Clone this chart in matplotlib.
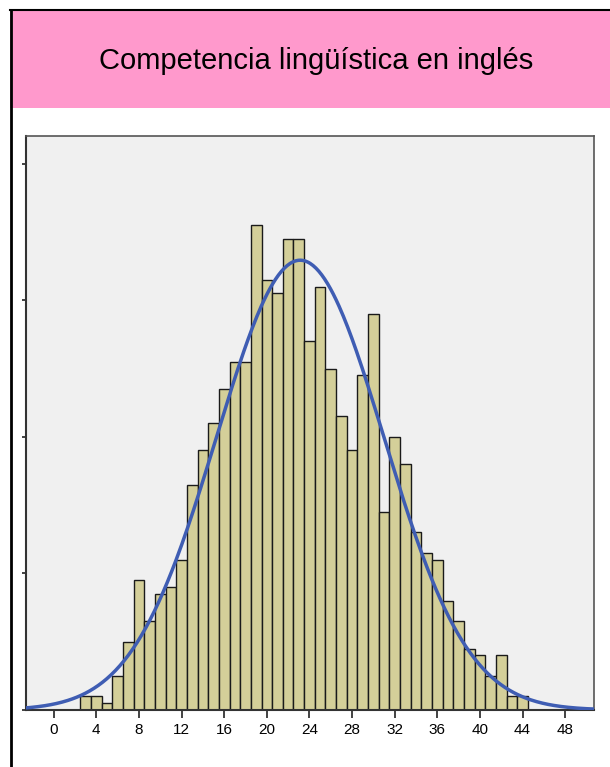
import numpy as np
import matplotlib
matplotlib.use("Agg")
import matplotlib.pyplot as plt
from matplotlib.patches import Rectangle
from matplotlib.lines import Line2D

# puntuaciones (centro de cada barra) y frecuencias
puntuaciones = list(range(3, 45))
frecuencias = [2, 2, 1, 5, 10, 19, 13, 17, 18, 22, 33, 38, 42, 47, 51, 51,
               71, 63, 61, 69, 69, 54, 62, 50, 43, 38, 49, 58, 29, 40, 36,
               26, 23, 22, 16, 13, 9, 8, 5, 8, 2, 2]
ticks_x = list(range(0, 49, 4))
ticks_y = [0, 20, 40, 60, 80]
titulo = "Competencia lingüística en inglés"

plt.rcParams["font.family"] = ["Liberation Sans", "DejaVu Sans"]

fig = plt.figure(figsize=(6.10, 7.67), dpi=100)
fig.patch.set_facecolor("white")

# cabecera rosa con el título
fig.patches.append(Rectangle((10 / 610, 1 - 108 / 767), 1, 98 / 767,
                             transform=fig.transFigure, facecolor="#ff99cc",
                             edgecolor="none", zorder=0))
fig.lines.append(Line2D([10 / 610, 1], [1 - 10 / 767, 1 - 10 / 767],
                        transform=fig.transFigure, color="black", lw=1.5))
fig.lines.append(Line2D([11 / 610, 11 / 610], [0, 1 - 10 / 767],
                        transform=fig.transFigure, color="black", lw=2))
fig.text(0.518, 1 - 61 / 767, titulo, ha="center", va="center",
         fontsize=21, color="black")

ax = fig.add_axes([26 / 610, 1 - 710 / 767, 568 / 610, 574 / 767])
ax.set_facecolor("#f0f0f0")

x = np.array(puntuaciones)
f = np.array(frecuencias)
ax.bar(x, f, width=1.0, color="#d4cf99", edgecolor="#1a1a1a", linewidth=1.0,
       zorder=2)

# curva normal con la media y desviación de los datos
n = f.sum()
media = (x * f).sum() / n
sd = np.sqrt(((x - media) ** 2 * f).sum() / (n - 1))
xs = np.linspace(-3, 51, 400)
ys = n * 1.0 / (sd * np.sqrt(2 * np.pi)) * np.exp(-0.5 * ((xs - media) / sd) ** 2)
ax.plot(xs, ys, color="#3f5db3", lw=2.5, zorder=3)

ax.set_xlim(-2.6, 50.7)
ax.set_ylim(0, 574 / 136.6 * 20)
ax.set_xticks(ticks_x)
ax.set_yticks(ticks_y)
ax.set_yticklabels([])
ax.tick_params(axis="x", direction="out", length=6, width=1.2,
               labelsize=11, pad=3, color="#222222")
ax.tick_params(axis="y", direction="out", length=3, width=1.2,
               color="#222222")
for lado in ["top", "right"]:
    ax.spines[lado].set_color("#555555")
    ax.spines[lado].set_linewidth(1.2)
for lado in ["left", "bottom"]:
    ax.spines[lado].set_color("#333333")
    ax.spines[lado].set_linewidth(1.5)

fig.savefig("out.png", dpi=100)
